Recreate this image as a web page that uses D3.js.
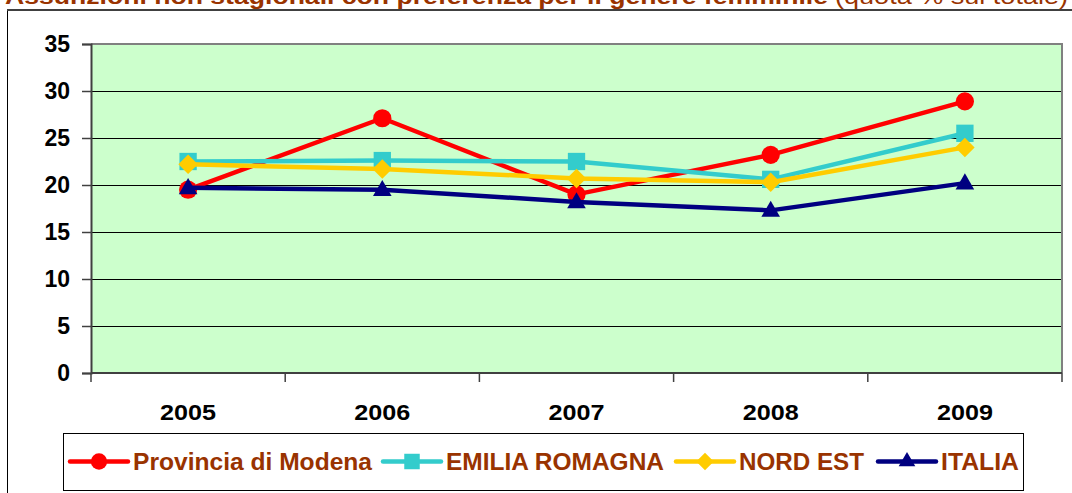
<!DOCTYPE html>
<html>
<head>
<meta charset="utf-8">
<script src="https://cdn.jsdelivr.net/npm/d3@7"></script>
<style>
  body { margin: 0; background: #fff; }
  text { font-family: "Liberation Sans", Arial, sans-serif; }
</style>
</head>
<body>
<div id="chart"></div>
<script>
// data
const years = ['2005', '2006', '2007', '2008', '2009']
const modena = [19.5, 27.1, 19.0, 23.2, 28.9]
const emilia = [22.5, 22.6, 22.5, 20.6, 25.5]
const nordEst = [22.2, 21.7, 20.7, 20.3, 24.0]
const italia = [19.7, 19.5, 18.2, 17.3, 20.2]
const yTicks = [0, 5, 10, 15, 20, 25, 30, 35]
const seriesNames = ['Provincia di Modena', 'EMILIA ROMAGNA', 'NORD EST', 'ITALIA']

const width = 1072,
  height = 493

const plot = { left: 91, right: 1062, top: 44, bottom: 373 }

// diamond = square turned 45 degrees
const series = [
  { name: seriesNames[0], values: modena, color: '#ff0000', shape: d3.symbolCircle, size: 260, rot: 0 },
  { name: seriesNames[1], values: emilia, color: '#33cccc', shape: d3.symbolSquare, size: 300, rot: 0 },
  { name: seriesNames[2], values: nordEst, color: '#ffcc00', shape: d3.symbolSquare, size: 190, rot: 45 },
  { name: seriesNames[3], values: italia, color: '#000080', shape: d3.symbolTriangle, size: 150, rot: 0 }
]

let svg = d3.select('#chart')
  .append('svg')
  .attr('width', width)
  .attr('height', height)

// title, mostly cut off at the top
svg.append('text')
  .attr('x', 5)
  .attr('y', 4)
  .attr('fill', '#993300')
  .attr('font-weight', 'bold')
  .attr('font-size', 22)
  .attr('textLength', 823)
  .attr('lengthAdjust', 'spacingAndGlyphs')
  .text('Assunzioni non stagionali con preferenza per il genere femminile')

svg.append('text')
  .attr('x', 835)
  .attr('y', 4)
  .attr('fill', '#993300')
  .attr('font-size', 22)
  .attr('textLength', 233)
  .attr('lengthAdjust', 'spacingAndGlyphs')
  .text('(quota % sul totale)')

// outer frame
svg.append('rect')
  .attr('x', 7.5)
  .attr('y', 10.5)
  .attr('width', 1100)
  .attr('height', 600)
  .attr('fill', 'none')
  .attr('stroke', '#000')
  .attr('stroke-width', 1)
svg.append('line')
  .attr('x1', 7).attr('x2', width)
  .attr('y1', 10).attr('y2', 10)
  .attr('stroke', '#404040')
  .attr('stroke-width', 2)

const xScale = d3.scaleBand()
  .domain(years)
  .range([plot.left, plot.right])

const yScale = d3.scaleLinear()
  .domain([0, 35])
  .range([plot.bottom, plot.top])

const cx = (d) => xScale(d) + xScale.bandwidth() / 2

// plot background
svg.append('rect')
  .attr('x', plot.left)
  .attr('y', plot.top)
  .attr('width', plot.right - plot.left)
  .attr('height', plot.bottom - plot.top)
  .attr('fill', '#ccffcc')

// gridlines
svg.append('g')
  .selectAll('line')
  .data(yTicks.filter(t => t > 0 && t < 35))
  .enter()
  .append('line')
  .attr('x1', plot.left)
  .attr('x2', plot.right)
  .attr('y1', d => Math.round(yScale(d)) + 0.5)
  .attr('y2', d => Math.round(yScale(d)) + 0.5)
  .attr('stroke', '#000')
  .attr('stroke-width', 1)

// plot border top / right
svg.append('line')
  .attr('x1', plot.left).attr('x2', plot.right + 1)
  .attr('y1', plot.top).attr('y2', plot.top)
  .attr('stroke', '#808080').attr('stroke-width', 2)
svg.append('line')
  .attr('x1', plot.right).attr('x2', plot.right)
  .attr('y1', plot.top).attr('y2', plot.bottom)
  .attr('stroke', '#808080').attr('stroke-width', 2)

// y axis
const yAxis = svg.append('g')
  .attr('transform', `translate(${plot.left}, 0)`)
  .call(d3.axisLeft(yScale).tickValues(yTicks).tickSize(9).tickPadding(12).tickFormat(d3.format('d')))
yAxis.select('.domain').attr('stroke', '#404040').attr('stroke-width', 2)
yAxis.selectAll('.tick line').attr('stroke', '#404040').attr('stroke-width', 1.5)
yAxis.selectAll('.tick text')
  .attr('font-size', 23)
  .attr('font-weight', 'bold')
  .attr('fill', '#000')
  .attr('font-family', '"Liberation Sans", Arial, sans-serif')

// x axis
const xAxis = svg.append('g')
  .attr('transform', `translate(0, ${plot.bottom})`)
xAxis.append('line')
  .attr('x1', plot.left).attr('x2', plot.right)
  .attr('y1', 0).attr('y2', 0)
  .attr('stroke', '#404040').attr('stroke-width', 2)
xAxis.selectAll('.xt')
  .data(years.concat(['end']))
  .enter()
  .append('line')
  .attr('x1', d => d === 'end' ? plot.right : xScale(d))
  .attr('x2', d => d === 'end' ? plot.right : xScale(d))
  .attr('y1', 0).attr('y2', 9)
  .attr('stroke', '#404040').attr('stroke-width', 1.5)
xAxis.selectAll('.xl')
  .data(years)
  .enter()
  .append('text')
  .attr('x', d => cx(d))
  .attr('y', 47)
  .attr('text-anchor', 'middle')
  .attr('font-size', 22)
  .attr('font-weight', 'bold')
  .attr('fill', '#000')
  .attr('textLength', 56)
  .attr('lengthAdjust', 'spacingAndGlyphs')
  .text(d => d)

// lines and markers
const line = d3.line()
  .x((d, i) => cx(years[i]))
  .y(d => yScale(d))

series.forEach(s => {
  const g = svg.append('g')
  g.append('path')
    .datum(s.values)
    .attr('d', line)
    .attr('fill', 'none')
    .attr('stroke', s.color)
    .attr('stroke-width', 4.5)
    .attr('stroke-linejoin', 'round')
  g.selectAll('.m')
    .data(s.values)
    .enter()
    .append('path')
    .attr('d', d3.symbol().type(s.shape).size(s.size))
    .attr('transform', (d, i) => `translate(${cx(years[i])}, ${yScale(d) + (s.shape === d3.symbolTriangle ? 1 : 0)}) rotate(${s.rot})`)
    .attr('fill', s.color)
})

// legend
svg.append('rect')
  .attr('x', 63.5)
  .attr('y', 433.5)
  .attr('width', 960)
  .attr('height', 57)
  .attr('fill', '#fff')
  .attr('stroke', '#000')
  .attr('stroke-width', 1)

const legStart = [70, 383, 676, 878]
const legTextLen = [239, 218, 125, 78]
const legY = 461.5

series.forEach((s, i) => {
  const g = svg.append('g').attr('transform', `translate(${legStart[i]}, ${legY})`)
  g.append('line')
    .attr('x1', 0).attr('x2', 58)
    .attr('y1', 0).attr('y2', 0)
    .attr('stroke', s.color)
    .attr('stroke-width', 4.5)
    .attr('stroke-linecap', 'round')
  g.append('path')
    .attr('d', d3.symbol().type(s.shape).size(s.size * 0.8))
    .attr('transform', `translate(29, 0) rotate(${s.rot})`)
    .attr('fill', s.color)
  g.append('text')
    .attr('x', 63)
    .attr('y', 8.5)
    .attr('font-size', 24)
    .attr('font-weight', 'bold')
    .attr('fill', '#993300')
    .attr('textLength', legTextLen[i])
    .attr('lengthAdjust', 'spacingAndGlyphs')
    .text(s.name)
})
</script>
</body>
</html>
